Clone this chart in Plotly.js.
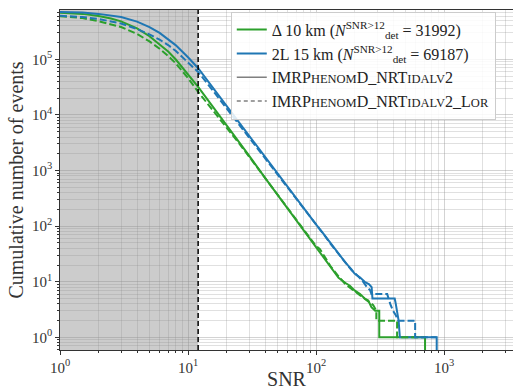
<!DOCTYPE html>
<html>
<head>
<meta charset="utf-8">
<script src="https://cdn.plot.ly/plotly-3.0.1.min.js"></script>
<style>html,body{margin:0;padding:0;background:#fff;}#chart{width:513px;height:390px;}</style>
</head>
<body>
<div id="chart"></div>
<script>
// ---- data ----
const snrThreshold = 12;

const snrGreen = [1, 1.5, 2, 2.5, 3, 4, 5, 6, 7, 8, 10, 12, 15, 20, 25, 30, 40, 50, 60, 70, 80, 90, 100, 107, 115, 130, 150, 170, 184, 200, 221, 240, 256, 271, 290, 312, 312, 711, 711];
const countGreen = [6.85e5, 6.55e5, 6.0e5, 5.4e5, 4.8e5, 3.6e5, 2.6e5, 1.88e5, 1.38e5, 1.0e5, 5.4e4, 3.2e4, 1.6e4, 6.6e3, 3.3e3, 1.85e3, 740, 370, 208, 128, 84, 58, 42, 35, 28, 18.5, 11.8, 9.5, 8.5, 7, 6, 5, 4.6, 3.5, 3, 3, 1, 1, 0.1];

const snrGreenLor = [1, 1.5, 2, 2.5, 3, 4, 5, 6, 7, 8, 10, 12, 15, 20, 25, 30, 40, 50, 60, 70, 80, 90, 100, 107, 115, 130, 150, 170, 200, 230, 260, 280, 296, 296, 430, 430, 711];
const countGreenLor = [5.95e5, 5.5e5, 4.85e5, 4.3e5, 3.8e5, 2.85e5, 2.1e5, 1.55e5, 1.15e5, 8.5e4, 4.6e4, 2.6e4, 1.38e4, 6.0e3, 3.1e3, 1.78e3, 730, 365, 205, 127, 84, 60, 44, 39, 30, 19, 12.5, 9.0, 6.8, 5.4, 4.4, 3.8, 3, 2, 2, 1, 1];

const snrBlue = [1, 1.5, 2, 2.5, 3, 4, 5, 6, 7, 8, 10, 12, 15, 20, 25, 30, 40, 50, 60, 70, 80, 90, 100, 115, 130, 150, 170, 190, 200, 220, 240, 260, 272, 276, 412, 420, 430, 442, 452, 877, 877];
const countBlue = [7.05e5, 6.9e5, 6.55e5, 6.2e5, 5.75e5, 4.75e5, 3.8e5, 2.98e5, 2.32e5, 1.8e5, 1.09e5, 6.9e4, 3.5e4, 1.45e4, 7.4e3, 4.2e3, 1.75e3, 880, 510, 320, 212, 150, 108, 72, 49, 32, 22, 16.5, 14, 12, 10, 9, 8, 5, 5, 4, 3, 2, 1, 1, 0.1];

const snrBlueLor = [1, 1.5, 2, 2.5, 3, 4, 5, 6, 7, 8, 10, 12, 15, 20, 25, 30, 40, 50, 60, 70, 80, 90, 100, 115, 130, 150, 170, 190, 210, 230, 250, 265, 271, 360, 380, 400, 420, 440, 595, 595, 877];
const countBlueLor = [6.05e5, 5.75e5, 5.3e5, 4.85e5, 4.4e5, 3.5e5, 2.8e5, 2.25e5, 1.8e5, 1.42e5, 8.8e4, 5.9e4, 3.1e4, 1.32e4, 6.8e3, 3.95e3, 1.68e3, 860, 500, 318, 210, 148, 106, 71, 48, 31.5, 21.5, 16, 13, 10.5, 8, 7, 6, 6, 4, 3, 2.5, 2, 2, 1, 1];

const xTickVals = [1, 10, 100, 1000];
const xTickText = ['10<sup>0</sup>', '10<sup>1</sup>', '10<sup>2</sup>', '10<sup>3</sup>'];
const yTickVals = [1, 10, 100, 1000, 10000, 100000];
const yTickText = ['10<sup>0</sup>', '10<sup>1</sup>', '10<sup>2</sup>', '10<sup>3</sup>', '10<sup>4</sup>', '10<sup>5</sup>'];

const nameGreen = 'Δ 10 km (<i>N</i><sup>SNR>12</sup><sub>det</sub> = 31992)';
const nameBlue = '2L 15 km (<i>N</i><sup>SNR>12</sup><sub>det</sub> = 69187)';
const sc = s => '<span style="font-size:12.5px">' + s + '</span>';
const nameModel = 'IMRP' + sc('HENOM') + 'D_NRT' + sc('IDALV') + '2';
const nameModelLor = nameModel + '_L' + sc('OR');

// minor tick positions (2..9 within each decade) for log axes
function minorLogTicks(d0, d1) {
  const out = [];
  for (let d = d0; d <= d1; d++) for (let k = 2; k <= 9; k++) out.push(k * Math.pow(10, d));
  return out;
}

// ---- styles ----
const GREEN = '#2ca02c', BLUE = '#1f77b4', GREY = '#808080';
const FONT = 'Liberation Serif, DejaVu Serif, serif';
const LW = 2;
const DASH = '7px,3px';

const traces = [
  {x: snrGreen, y: countGreen, mode: 'lines', name: nameGreen, line: {color: GREEN, width: LW}, showlegend: true},
  {x: snrBlue, y: countBlue, mode: 'lines', name: nameBlue, line: {color: BLUE, width: LW}, showlegend: true},
  {x: [null], y: [null], mode: 'lines', name: nameModel, line: {color: GREY, width: 1.6}, showlegend: true},
  {x: [null], y: [null], mode: 'lines', name: nameModelLor, line: {color: GREY, width: 1.6, dash: '4px,3px'}, showlegend: true},
  {x: snrGreenLor, y: countGreenLor, mode: 'lines', line: {color: GREEN, width: LW, dash: DASH}, showlegend: false},
  {x: snrBlueLor, y: countBlueLor, mode: 'lines', line: {color: BLUE, width: LW, dash: DASH}, showlegend: false}
];

const gridMajor = 'rgba(140,140,140,0.38)';
const gridMinor = 'rgba(140,140,140,0.27)';

const axisCommon = {
  type: 'log',
  showline: true, mirror: true, linecolor: '#333', linewidth: 1.2,
  ticks: 'outside', ticklen: 3.5, tickwidth: 1, tickcolor: '#333',
  showgrid: true, gridcolor: gridMajor, gridwidth: 1,
  zeroline: false,
  tickfont: {family: FONT, size: 15, color: '#333'},
  tickmode: 'array'
};

const layout = {
  width: 513, height: 390,
  margin: {l: 60, r: 0, t: 10, b: 40},
  paper_bgcolor: '#fff', plot_bgcolor: '#fff',
  font: {family: FONT, color: '#333'},
  xaxis: Object.assign({}, axisCommon, {
    range: [0, 3.539],
    tickvals: xTickVals, ticktext: xTickText,
    minor: {tickmode: 'array', tickvals: minorLogTicks(0, 3), ticks: 'outside', ticklen: 2, tickcolor: '#333', showgrid: true, gridcolor: gridMinor, gridwidth: 1},
    title: {text: 'SNR', font: {family: FONT, size: 20, color: '#333'}, standoff: 1}
  }),
  yaxis: Object.assign({}, axisCommon, {
    range: [-0.227, 5.886],
    tickvals: yTickVals, ticktext: yTickText,
    minor: {tickmode: 'array', tickvals: minorLogTicks(-1, 5), ticks: 'outside', ticklen: 2, tickcolor: '#333', showgrid: true, gridcolor: gridMinor, gridwidth: 1},
    title: {text: 'Cumulative number of events', font: {family: FONT, size: 20, color: '#333'}, standoff: 3}
  }),
  shapes: [
    {type: 'rect', xref: 'x', yref: 'paper', x0: 1, x1: snrThreshold, y0: 0, y1: 1,
     fillcolor: '#cccccc', line: {width: 0}, layer: 'below'},
    {type: 'line', xref: 'x', yref: 'paper', x0: snrThreshold, x1: snrThreshold, y0: 0, y1: 1,
     line: {color: '#000', width: 1.5, dash: '5px,3px'}}
  ],
  legend: {
    x: 0.377, y: 0.995, xanchor: 'left', yanchor: 'top',
    bgcolor: 'rgba(255,255,255,0.85)', bordercolor: '#cccccc', borderwidth: 1,
    font: {family: FONT, size: 16, color: '#222'},
    tracegroupgap: 0, itemwidth: 30
  },
  showlegend: true
};

Plotly.newPlot('chart', traces, layout, {staticPlot: true, displayModeBar: false});
</script>
</body>
</html>
